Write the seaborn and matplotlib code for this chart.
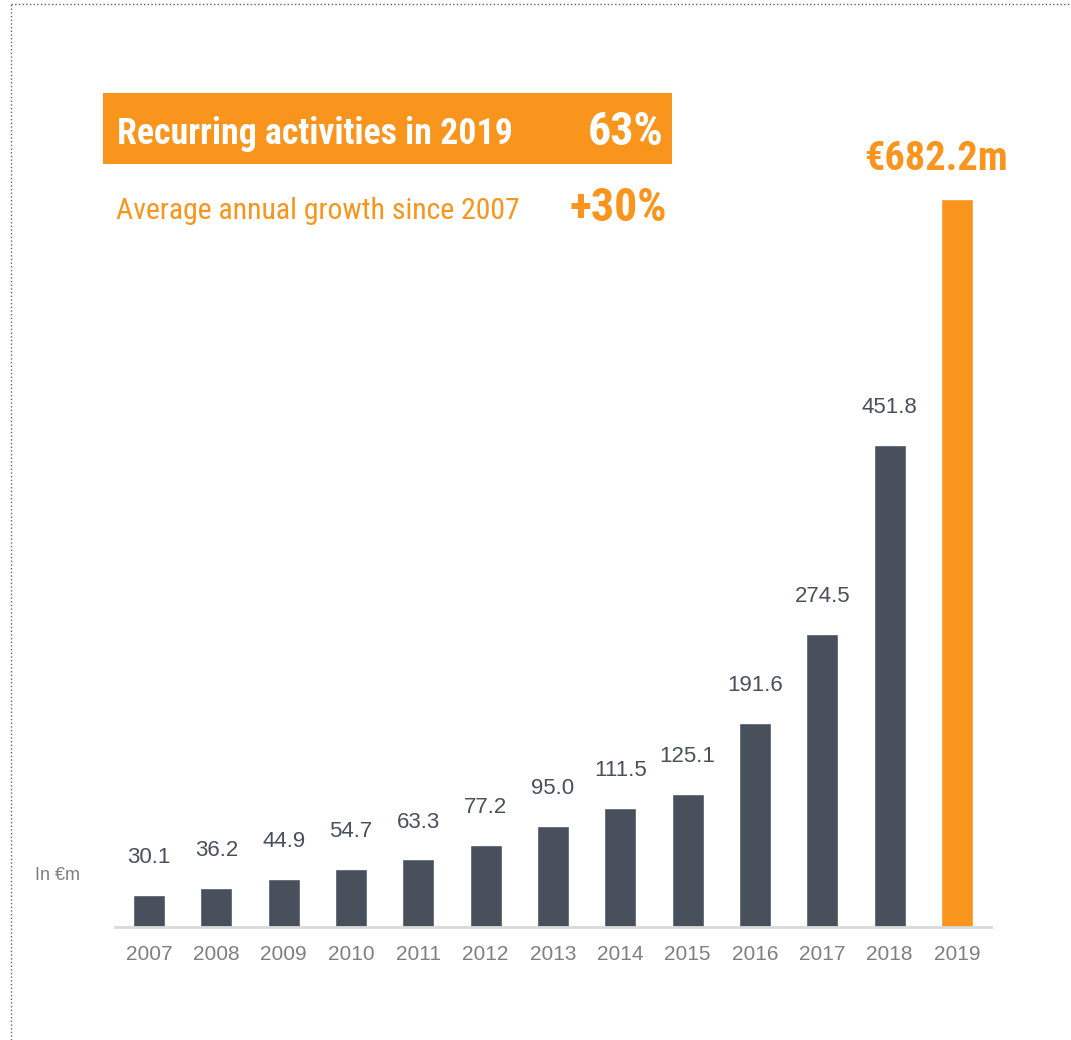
import matplotlib
matplotlib.use("Agg")
import matplotlib.pyplot as plt
import seaborn as sns
import pandas as pd
from matplotlib.lines import Line2D
from matplotlib.patches import Rectangle

years = ["2007", "2008", "2009", "2010", "2011", "2012", "2013",
         "2014", "2015", "2016", "2017", "2018", "2019"]
values = [30.1, 36.2, 44.9, 54.7, 63.3, 77.2, 95.0,
          111.5, 125.1, 191.6, 274.5, 451.8, 682.2]
labels = ["30.1", "36.2", "44.9", "54.7", "63.3", "77.2", "95.0",
          "111.5", "125.1", "191.6", "274.5", "451.8", "€682.2m"]
highlight = ["base"] * 12 + ["hl"]

DARK = "#47505B"
ORANGE = "#F9941C"
FONT = ["Liberation Sans", "DejaVu Sans"]
NARROW = ["Roboto Condensed", "Liberation Sans", "DejaVu Sans"]

sns.set_theme(style="white")
plt.rcParams["font.family"] = FONT

df = pd.DataFrame({"year": years, "value": values, "grp": highlight})

W, H = 1071, 1040
fig = plt.figure(figsize=(W / 100, H / 100), dpi=100)
ax = fig.add_axes([115.3 / W, (H - 927) / H, 875.3 / W, 853.7 / H])

sns.barplot(data=df, x="year", y="value", hue="grp",
            palette={"base": DARK, "hl": ORANGE}, width=0.475,
            legend=False, ax=ax, saturation=1)

ax.set_xlim(-0.5, 12.5)
ax.set_ylim(0, 800)
for s in ["top", "right", "left"]:
    ax.spines[s].set_visible(False)
ax.spines["bottom"].set_color("#D9D9D9")
ax.spines["bottom"].set_linewidth(2)
ax.set_yticks([])
ax.set_xlabel("")
ax.set_ylabel("")
ax.tick_params(axis="x", length=0, pad=13, labelsize=15, labelcolor="#7F7F7F")

for i, (v, lab) in enumerate(zip(values, labels)):
    if i == 12:
        ax.annotate(lab, (i, v), xytext=(-15, 21), textcoords="offset points",
                    ha="center", va="baseline", fontsize=29, fontweight="bold",
                    color=ORANGE, family=NARROW)
    else:
        ax.annotate(lab, (i, v), xytext=(0, 23), textcoords="offset points",
                    ha="center", va="baseline", fontsize=16, color=DARK)

# "In €m" unit label
fig.text(35 / W, 1 - 880 / H, "In €m", ha="left", va="baseline",
         fontsize=13, color="#7F7F7F")

# header box
fig.patches.append(Rectangle((103 / W, 1 - 164 / H), 569 / W, 71 / H,
                             transform=fig.transFigure, facecolor=ORANGE,
                             edgecolor="none", zorder=1))
fig.text(117 / W, 1 - 144 / H, "Recurring activities in 2019", ha="left",
         va="baseline", fontsize=25.8, fontweight="bold", color="white",
         zorder=2, family=NARROW)
fig.text(664 / W, 1 - 145 / H, "63%", ha="right", va="baseline",
         fontsize=33, fontweight="bold", color="white", zorder=2, family=NARROW)
fig.text(116 / W, 1 - 219 / H, "Average annual growth since 2007", ha="left",
         va="baseline", fontsize=21.4, color=ORANGE, family=NARROW)
fig.text(667 / W, 1 - 221 / H, "+30%", ha="right", va="baseline",
         fontsize=33, fontweight="bold", color=ORANGE, family=NARROW)

# dotted frame
fig.add_artist(Line2D([11 / W, 11 / W], [0, 1 - 4 / H], transform=fig.transFigure,
                      color="#5A6470", linestyle=":", linewidth=1))
fig.add_artist(Line2D([11 / W, 1], [1 - 4 / H, 1 - 4 / H], transform=fig.transFigure,
                      color="#5A6470", linestyle=":", linewidth=1))

fig.savefig("out.png", dpi=100)
